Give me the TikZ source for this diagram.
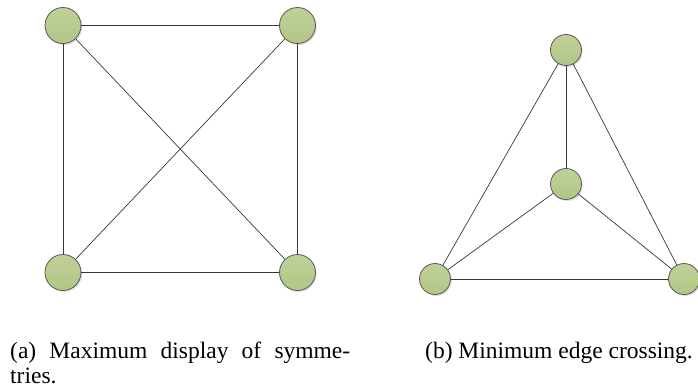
\documentclass[tikz,border=0pt]{standalone}
\usepackage{fontspec}
\setmainfont{Liberation Serif}
\usetikzlibrary{shadows}
\definecolor{nodetop}{RGB}{192,208,152}
\definecolor{nodebot}{RGB}{178,198,134}
\definecolor{nodeedge}{RGB}{88,88,88}
\definecolor{edgecol}{RGB}{55,55,55}
\tikzset{
  vert/.style={circle, draw=nodeedge, line width=0.8bp, top color=nodetop, bottom color=nodebot, inner sep=0pt,
    drop shadow={shadow xshift=1.2bp, shadow yshift=-1.5bp, opacity=0.25}},
  bigvert/.style={vert, minimum size=36bp},
  smallvert/.style={vert, minimum size=31bp},
  link/.style={draw=edgecol, line width=0.7bp},
  captext/.style={inner sep=0pt, anchor=base west, font=\fontsize{23.5bp}{25bp}\selectfont}
}
\begin{document}
\begin{tikzpicture}[x=1bp,y=-1bp]
\useasboundingbox (0,0) rectangle (698,389);
% (a)
\node[bigvert] (a1) at (63,25.5) {};
\node[bigvert] (a2) at (297.5,25.5) {};
\node[bigvert] (a3) at (63,272.5) {};
\node[bigvert] (a4) at (297.5,272.5) {};
\draw[link] (a1) -- (a2);
\draw[link] (a1) -- (a3);
\draw[link] (a2) -- (a4);
\draw[link] (a3) -- (a4);
\draw[link] (a1) -- (a4);
\draw[link] (a2) -- (a3);
% (b)
\node[smallvert] (b1) at (566,50) {};
\node[smallvert] (b2) at (566,184) {};
\node[smallvert] (b3) at (435,279) {};
\node[smallvert] (b4) at (684,279) {};
\draw[link] (b1) -- (b2);
\draw[link] (b1) -- (b3);
\draw[link] (b1) -- (b4);
\draw[link] (b2) -- (b3);
\draw[link] (b2) -- (b4);
\draw[link] (b3) -- (b4);
% captions
\node[captext] (capa1) at (10,358) {\makebox[340bp][s]{(a) Maximum display of symme-}};
\node[captext] (capa2) at (10,383) {tries.};
\node[captext] (capb) at (425,358) {(b) Minimum edge crossing.};
\end{tikzpicture}
\end{document}
